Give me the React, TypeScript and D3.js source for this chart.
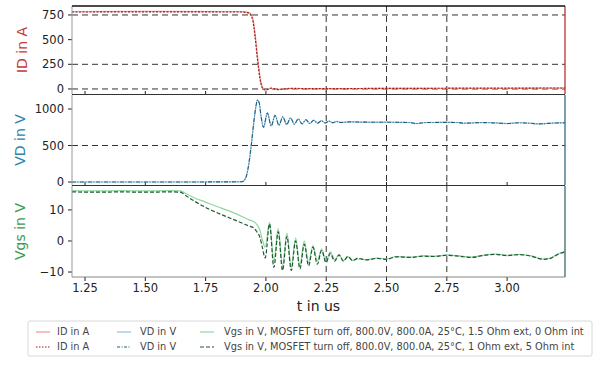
import React from "react";
import * as d3 from "d3";

// ---------- data ----------
const T_ID = [1.196, 1.5, 1.9, 1.93, 1.945, 1.955, 1.965, 1.975, 1.982, 1.99, 2.0, 2.02, 2.05, 2.1, 2.2, 2.4, 2.6, 2.8, 3.0, 3.24];
const ID_A = [785, 786, 785, 775, 720, 560, 330, 130, 40, 0, -8, 6, -4, 4, 2, 4, 5, 6, 7, 8];
const ID_B = [780, 781, 780, 768, 700, 530, 300, 110, 30, -5, -10, 8, -6, 6, 3, 5, 6, 8, 9, 10];

const T_VD = [1.196, 1.5, 1.9, 1.91, 1.92, 1.93, 1.94, 1.95, 1.958, 1.965, 1.972, 1.98, 1.99, 2.006, 2.022, 2.038, 2.054, 2.07, 2.086, 2.102, 2.118, 2.134, 2.15, 2.166, 2.182, 2.198, 2.214, 2.23, 2.246, 2.262, 2.278, 2.294, 2.31, 2.35, 2.4, 2.5, 2.6, 2.62, 2.66, 2.75, 2.8, 2.82, 2.9, 2.95, 3.0, 3.05, 3.1, 3.13, 3.2, 3.24];
const VD_A = [0, 0, 2, 20, 90, 260, 520, 820, 1020, 1125, 1090, 900, 745, 950, 765, 915, 775, 895, 785, 880, 790, 865, 795, 855, 800, 848, 805, 840, 808, 835, 812, 830, 815, 825, 820, 820, 815, 800, 815, 818, 815, 805, 815, 810, 800, 812, 805, 795, 810, 812];
const VD_B = [0, 0, 3, 22, 95, 270, 530, 830, 1025, 1122, 1085, 895, 750, 945, 768, 912, 778, 892, 788, 878, 792, 863, 797, 853, 802, 846, 806, 838, 809, 834, 813, 829, 816, 824, 820, 819, 814, 801, 814, 817, 814, 806, 814, 809, 801, 811, 804, 796, 809, 811];

const T_VGS = [1.196, 1.3, 1.4, 1.5, 1.6, 1.645, 1.67, 1.7, 1.75, 1.8, 1.85, 1.9, 1.93, 1.95, 1.96, 1.975, 1.985, 1.997, 2.015, 2.033, 2.051, 2.069, 2.087, 2.105, 2.123, 2.141, 2.159, 2.177, 2.195, 2.213, 2.231, 2.249, 2.267, 2.285, 2.303, 2.321, 2.34, 2.36, 2.38, 2.42, 2.46, 2.5, 2.54, 2.6, 2.65, 2.7, 2.75, 2.8, 2.85, 2.9, 2.95, 3.0, 3.05, 3.1, 3.15, 3.18, 3.21, 3.24];
const VGS_A = [16.2, 16.1, 16.2, 16.1, 16.2, 16.1, 15.2, 14.0, 12.5, 11.0, 9.6, 7.9, 6.8, 6.2, 5.5, 3.5, 0.5, -2, 6, -6.5, 4, -8, 2.5, -8.5, 1, -8, 0, -7, -1.5, -6.5, -2.5, -6.5, -3.5, -6, -4.5, -6.3, -5, -6.3, -5.8, -6, -5.5, -5.8, -5, -5.2, -4.8, -4.9, -4.5, -4.8, -5.2, -4.6, -4.2, -4.6, -4.3, -4.8, -5.8, -5.5, -4.2, -3.4];
const VGS_B = [15.8, 15.7, 15.8, 15.7, 15.8, 15.7, 14.5, 13.0, 10.8, 9.0, 7.4, 5.8, 4.8, 4.2, 3.2, 1.2, -2, -5.5, 5.5, -8.5, 3, -9.5, 1.5, -9.5, 0, -9, -1, -8, -2, -7.5, -3, -7, -4, -6.5, -4.5, -6.5, -5, -6.3, -5.6, -6.1, -5.6, -5.9, -5.1, -5.3, -4.9, -5.0, -4.6, -4.9, -5.3, -4.7, -4.3, -4.7, -4.4, -4.9, -5.9, -5.6, -4.3, -3.5];

const X_TICKS = [1.25, 1.5, 1.75, 2.0, 2.25, 2.5, 2.75, 3.0];
const X_GRID = [2.25, 2.5, 2.75];
const ID_TICKS = [0, 250, 500, 750];
const ID_GRID = [0, 250, 750];
const VD_TICKS = [0, 500, 1000];
const VD_GRID = [500];
const VGS_TICKS = [-10, 0, 10];

const LEGEND_LABELS = [
  "ID in A",
  "VD in V",
  "Vgs in V, MOSFET turn off, 800.0V, 800.0A, 25°C, 1.5 Ohm ext, 0 Ohm int",
  "ID in A",
  "VD in V",
  "Vgs in V, MOSFET turn off, 800.0V, 800.0A, 25°C, 1 Ohm ext, 5 Ohm int",
];

// ---------- layout ----------
const X0 = 72, X1 = 565;
const FONT = "DejaVu Sans, sans-serif";

const C_ID_L = "#ee9a8e", C_ID_D = "#9b1c1c";
const C_VD_L = "#8cc4e4", C_VD_D = "#245f78";
const C_VG_L = "#8fd6a0", C_VG_D = "#1d5a32";

export default function App() {
  const x = d3.scaleLinear().domain([1.196, 3.24]).range([X0, X1]);
  const yId = d3.scaleLinear().domain([-51, 841]).range([94, 6]);
  const yVd = d3.scaleLinear().domain([-41, 1192]).range([185, 95]);
  const yVg = d3.scaleLinear().domain([-11.6, 17.7]).range([277, 186]);

  const mk = (ts: number[], vs: number[], ys: d3.ScaleLinear<number, number>) =>
    d3.line<number>().x((_, i) => x(ts[i])).y((v) => ys(v)).curve(d3.curveMonotoneX)(vs) || "";

  const panels = [
    { y: yId, top: 6, bot: 94, ticks: ID_TICKS, grid: ID_GRID, label: "ID in A", color: "#c83a3a", spine: "#b52020" },
    { y: yVd, top: 95, bot: 185, ticks: VD_TICKS, grid: VD_GRID, label: "VD in V", color: "#2f82a8", spine: "#245f78" },
    { y: yVg, top: 186, bot: 277, ticks: VGS_TICKS, grid: [] as number[], label: "Vgs in V", color: "#3c9a50", spine: "#2a5e5e" },
  ];

  const legendRows = [332, 347];
  const legendCols = [
    { lx: 36, tx: 57 },
    { lx: 117, tx: 140 },
    { lx: 200, tx: 224 },
  ];
  const legendStyles = [
    { c: C_ID_L, d: "" }, { c: C_VD_L, d: "" }, { c: C_VG_L, d: "" },
    { c: C_ID_D, d: "1.5,1.5" }, { c: C_VD_D, d: "3,1.5,1,1.5" }, { c: C_VG_D, d: "4,2" },
  ];

  return (
    <svg width={601} height={365} style={{ position: "absolute", left: 0, top: 0, background: "#fff" }} fontFamily={FONT}>
      {panels.map((p, k) => (
        <g key={k}>
          {p.grid.map((g) => (
            <line key={"h" + g} x1={X0} x2={X1} y1={p.y(g)} y2={p.y(g)} stroke="#333" strokeWidth={1} strokeDasharray="6,4" />
          ))}
          {X_GRID.map((g) => (
            <line key={"v" + g} x1={x(g)} x2={x(g)} y1={p.top} y2={p.bot} stroke="#333" strokeWidth={1} strokeDasharray="6,4" />
          ))}
          {p.ticks.map((t) => (
            <g key={"t" + t}>
              <line x1={X0 - 4} x2={X0} y1={p.y(t)} y2={p.y(t)} stroke="#222" />
              <text x={64} y={p.y(t)} dy="0.35em" textAnchor="end" fontSize={11.5} fill="#222">
                {t < 0 ? "\u2212" + Math.abs(t) : String(t)}
              </text>
            </g>
          ))}
          {X_TICKS.map((t) => (
            <line key={"xt" + t} x1={x(t)} x2={x(t)} y1={p.bot} y2={k === 2 ? p.bot + 4 : p.bot - 3} stroke="#222" />
          ))}
          <text
            transform={`translate(${k === 0 ? 22 : 20},${(p.top + p.bot) / 2}) rotate(-90)`}
            textAnchor="middle"
            dy="0.35em"
            fontSize={14}
            fill={p.color}
          >
            {p.label}
          </text>
        </g>
      ))}

      <path d={mk(T_ID, ID_A, yId)} fill="none" stroke={C_ID_L} strokeWidth={1.3} />
      <path d={mk(T_ID, ID_B, yId)} fill="none" stroke={C_ID_D} strokeWidth={1.2} strokeDasharray="2,1.5" />
      <path d={mk(T_VD, VD_A, yVd)} fill="none" stroke={C_VD_L} strokeWidth={1.2} />
      <path d={mk(T_VD, VD_B, yVd)} fill="none" stroke={C_VD_D} strokeWidth={1.1} strokeDasharray="4,1.5,1,1.5" />
      <path d={mk(T_VGS, VGS_A, yVg)} fill="none" stroke={C_VG_L} strokeWidth={1.2} />
      <path d={mk(T_VGS, VGS_B, yVg)} fill="none" stroke={C_VG_D} strokeWidth={1.2} strokeDasharray="4,2" />

      {panels.map((p, k) => (
        <g key={"s" + k}>
          <line x1={X0} x2={X0} y1={p.top} y2={p.bot} stroke="#999" strokeWidth={1} />
          <line x1={X1} x2={X1} y1={p.top} y2={p.bot} stroke={p.spine} strokeWidth={1.2} />
        </g>
      ))}
      <line x1={X0} x2={X1} y1={6} y2={6} stroke="#111" strokeWidth={1.5} />
      <line x1={X0} x2={X1} y1={94.5} y2={94.5} stroke="#333" strokeWidth={1} />
      <line x1={X0} x2={X1} y1={185.5} y2={185.5} stroke="#333" strokeWidth={1} />
      <line x1={X0} x2={X1} y1={277} y2={277} stroke="#888" strokeWidth={1} />

      {X_TICKS.map((t) => (
        <text key={"xl" + t} x={x(t)} y={292} textAnchor="middle" fontSize={11.5} fill="#222">
          {t.toFixed(2)}
        </text>
      ))}
      <text x={(X0 + X1) / 2} y={311} textAnchor="middle" fontSize={14} fill="#222">t in us</text>

      <rect x={28} y={321} width={564} height={35} rx={2} fill="#fff" stroke="#d8d8d8" />
      {LEGEND_LABELS.map((lab, i) => {
        const row = Math.floor(i / 3), col = i % 3;
        const y = legendRows[row];
        const c = legendCols[col];
        const s = legendStyles[i];
        return (
          <g key={"lg" + i}>
            <line x1={c.lx} x2={c.lx + 14} y1={y} y2={y} stroke={s.c} strokeWidth={1.2} strokeDasharray={s.d || undefined} />
            <text x={c.tx} y={y} dy="0.35em" fontSize={9.8} fill="#444">{lab}</text>
          </g>
        );
      })}
    </svg>
  );
}
